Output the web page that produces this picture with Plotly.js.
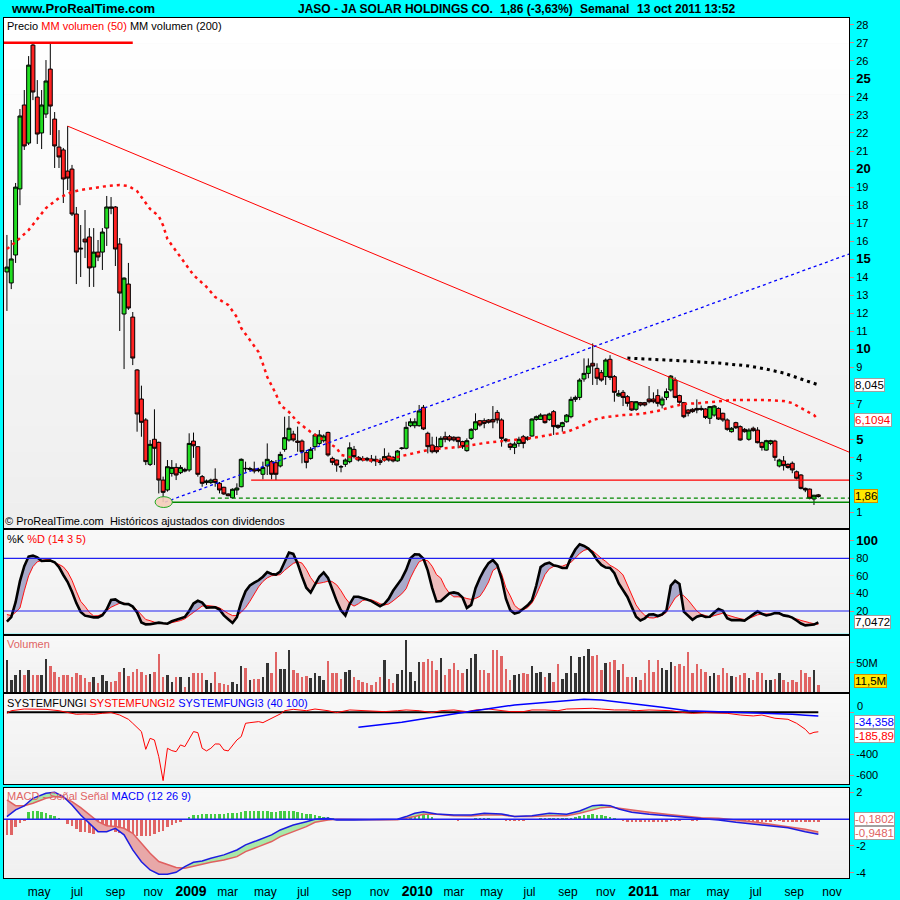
<!DOCTYPE html>
<html><head><meta charset="utf-8">
<script src="https://cdn.plot.ly/plotly-3.0.1.min.js"></script>
<style>html,body{margin:0;padding:0;background:#00FFFF;}#chart{width:900px;height:900px;}</style>
</head><body><div id="chart"></div>
<script>
// ---------------- DATA (weekly, first week = 2008-03-10) ----------------
const startWeek = '2008-03-10';
const openP = [14.30,13.69,15.24,18.90,23.55,21.44,26.87,23.99,22.00,23.05,
25.54,22.77,21.22,21.06,19.89,20.00,17.51,15.62,16.12,16.24,
14.57,15.40,15.40,16.73,17.90,17.90,15.85,11.97,13.63,11.80,
8.87,7.26,6.10,3.64,5.03,4.86,2.77,2.22,3.14,3.47,
3.18,3.36,3.33,4.93,4.62,2.96,2.63,2.63,2.81,2.59,
2.37,2.00,1.79,2.22,2.40,3.42,3.36,3.38,3.36,3.09,
3.55,3.79,3.73,3.55,4.47,4.99,5.32,4.93,4.93,4.29,
3.97,4.62,4.80,4.95,5.41,3.97,3.88,3.52,3.64,3.79,
4.47,4.03,3.97,3.97,3.94,3.92,3.84,3.88,4.10,4.03,
3.83,4.52,4.53,5.78,5.78,5.78,6.80,5.36,4.71,4.62,
4.62,5.17,5.17,5.14,5.14,4.90,4.40,5.08,5.58,6.06,
6.06,6.10,6.13,6.52,6.10,5.03,4.77,4.58,4.80,5.17,
5.14,5.21,6.13,6.13,6.37,6.13,6.56,5.80,5.73,6.00,
6.28,7.24,7.35,8.37,8.68,9.24,8.96,8.72,8.50,9.46,
8.50,7.43,7.63,7.39,7.11,6.69,7.06,7.06,7.26,7.26,
7.45,6.93,7.35,7.76,8.31,7.45,7.06,6.65,6.69,6.74,
6.74,6.71,6.19,6.37,6.74,6.47,6.10,5.45,5.95,5.73,
5.58,5.03,5.64,5.54,4.84,4.43,4.80,4.93,3.55,3.83,
3.64,3.70,3.23,3.05,2.31,2.27,1.72,1.95];
const highP = [16.35,16.07,19.23,23.33,24.38,26.26,26.98,24.93,24.38,26.04,
26.98,23.16,22.16,21.17,22.38,20.23,17.90,16.90,17.73,16.73,
16.73,16.07,16.73,18.51,18.45,17.95,16.18,14.00,14.80,12.08,
8.92,8.00,6.20,4.99,6.69,4.90,2.96,3.88,3.88,3.70,
3.60,3.45,5.36,5.40,4.62,3.05,2.80,2.85,3.42,2.66,
2.40,2.03,2.31,2.59,3.97,3.79,3.50,3.79,3.45,3.79,
4.80,3.88,3.88,4.34,6.28,6.32,5.50,5.73,5.02,4.43,
4.60,5.36,5.54,5.30,5.45,4.07,3.90,3.60,3.97,4.86,
4.66,4.10,4.10,4.05,4.16,4.12,3.97,4.53,4.29,4.10,
4.43,4.60,6.00,6.19,6.19,6.93,6.93,5.45,5.17,5.17,
5.20,5.45,5.27,5.20,5.17,4.95,5.08,5.64,6.47,6.10,
6.19,6.15,6.87,6.65,6.19,5.10,4.84,4.90,5.17,5.27,
5.20,6.19,6.35,6.47,6.40,6.50,6.65,5.85,6.00,6.43,
7.39,7.45,8.41,9.51,9.51,10.34,9.24,8.87,9.51,9.69,
8.59,7.76,7.76,7.48,7.15,7.15,7.10,7.10,7.98,7.63,
7.80,7.39,7.85,8.59,8.46,7.50,7.10,6.70,6.75,7.24,
6.90,6.75,6.87,6.93,6.80,6.50,6.19,5.70,6.00,5.80,
5.65,5.64,5.73,5.70,4.90,5.00,5.00,5.00,3.95,4.10,
3.70,3.80,3.30,3.10,2.35,2.30,1.95,2.00];
const lowP = [12.14,13.35,14.80,18.00,21.06,21.33,23.82,21.39,21.11,22.83,
21.89,20.06,20.06,18.12,18.84,17.40,13.63,14.02,15.07,13.47,
13.47,14.90,14.41,15.74,17.50,14.63,11.03,8.92,12.20,9.14,
5.45,5.17,3.60,3.55,3.60,2.03,1.55,2.13,2.96,2.77,
3.10,3.20,3.23,4.00,2.96,2.40,2.50,2.55,2.40,2.03,
1.95,1.88,1.75,1.94,2.37,3.23,3.25,3.14,3.20,2.81,
3.05,2.81,2.77,3.47,4.34,4.90,4.90,4.34,3.70,3.42,
3.90,4.40,4.70,4.85,4.07,3.60,3.23,3.20,3.50,3.70,
3.97,3.80,3.80,3.80,3.73,3.55,3.60,3.79,3.79,3.75,
3.79,4.45,4.47,5.70,5.64,5.73,5.54,4.25,4.25,4.25,
4.55,4.86,4.90,4.90,4.53,4.50,4.34,5.00,5.51,5.73,
5.64,5.90,5.64,5.91,4.62,4.85,4.43,4.21,4.62,4.53,
4.95,5.17,6.05,6.10,5.90,6.05,5.27,5.60,5.45,5.95,
6.19,7.10,7.20,8.22,8.41,8.04,8.04,8.22,8.04,8.31,
7.11,7.39,6.87,6.84,6.60,6.60,6.85,6.85,7.02,7.02,
6.84,6.74,7.20,7.67,7.30,7.00,6.20,6.30,6.50,6.47,
6.60,6.15,5.88,6.28,6.10,6.00,5.50,5.40,5.60,4.95,
5.40,4.95,5.45,4.80,4.40,4.40,4.70,3.83,3.47,3.30,
3.40,3.15,2.80,2.25,2.10,1.70,1.39,1.80];
const closeP = [14.57,15.02,19.00,22.94,21.28,25.76,24.27,21.94,23.55,24.88,
23.49,21.28,20.67,19.45,19.50,17.51,15.40,15.58,15.96,14.52,
15.40,15.13,16.51,17.90,17.84,15.57,13.13,13.96,12.30,9.53,
6.43,5.97,3.79,4.75,4.53,2.77,2.09,3.51,3.47,3.05,
3.47,3.27,4.80,4.67,3.09,2.59,2.72,2.77,2.64,2.22,
2.00,1.90,2.26,2.33,3.92,3.40,3.40,3.27,3.29,3.47,
3.92,3.09,3.09,4.19,5.12,5.64,4.99,4.86,4.34,3.75,
4.47,5.27,5.27,5.21,4.16,3.75,3.60,3.50,3.88,4.56,
4.07,3.88,3.88,3.88,3.83,3.83,3.75,4.07,3.88,3.83,
4.38,4.54,5.69,6.00,6.00,6.60,5.60,4.62,4.34,4.34,
5.08,5.03,4.99,4.99,4.90,4.62,4.95,5.58,6.00,5.82,
5.91,5.97,5.99,6.10,5.08,4.95,4.58,4.77,5.03,4.80,
5.03,6.15,6.28,6.37,5.95,6.43,5.73,5.69,5.95,6.37,
7.24,7.35,8.31,8.68,9.09,9.09,8.41,8.31,9.42,8.46,
7.63,7.57,7.35,7.02,6.65,7.11,6.93,6.93,7.11,7.11,
7.02,7.26,7.67,8.53,7.35,7.08,6.28,6.47,6.56,6.65,
6.69,6.24,6.84,6.87,6.15,6.10,5.58,5.64,5.67,4.99,
5.45,5.54,5.51,4.84,4.58,4.95,4.95,4.03,3.88,3.57,
3.47,3.33,2.87,2.31,2.22,1.76,1.93,1.86];

// moving averages (week number, price)
const ma50Week = [1,3,6,8,10,13,16,18,21,24,27,29,31,32,33,34,36,37,38,40,42,44,47,49,52,54,55,57,59,60,61,63,64,66,68,71,74,77,78,82,86,90,95,99,103,107,111,115,119,122,126,130,134,136,139,143,147,151,154,157,161,165,168,172,176,180,182,184,187,188];
const ma50Val = [15.57,15.96,16.62,17.23,17.84,18.40,18.73,18.84,18.95,19.06,19.12,19.06,18.78,18.45,18.12,17.79,17.40,16.87,16.12,15.46,14.80,14.13,13.47,12.91,12.47,11.80,11.19,10.53,9.86,9.20,8.48,7.54,6.93,6.54,5.99,5.43,4.99,4.55,4.16,3.94,3.83,3.99,4.27,4.49,4.55,4.66,4.82,4.93,5.04,5.10,5.27,5.43,5.82,6.10,6.26,6.37,6.43,6.60,6.82,6.98,7.04,7.15,7.20,7.20,7.20,7.15,7.04,6.76,6.37,6.1094];
const ma200Week = [144,149,157,165,172,176,180,184,188];
const ma200Val = [9.53,9.48,9.37,9.25,9.09,8.92,8.70,8.37,8.045];

// drawn trend lines (date, price)
const resistX = ['2008-06-16','2011-11-28 12:00']; const resistY = [22.38,4.32];
const supportX = ['2008-11-20','2011-11-28 12:00']; const supportY = [1.55,15.29];
const topLineX = ['2008-03-05','2008-09-29']; const topLineY = [27.0,27.0];
const redLevelX = ['2009-04-08','2011-11-28 12:00']; const redLevelY = [2.77,2.77];
const greenDashX = ['2009-02-02','2011-11-28 12:00']; const greenDashY = [1.77,1.77];
const greenLineX = ['2008-12-01','2011-11-28 12:00']; const greenLineY = [1.54,1.54];

// stochastic %K / %D (14 3 5), one value per week
const stochK = [8,13,30,54,71,82,83,81,77,77,
77.5,75.5,70,61,53,42,29,19,14.7,13.8,
12.8,12.8,15.2,22,32.5,33.2,30,28,27.8,25,
18.3,7,4.8,5,5.8,6.8,6,5.5,8.3,9.8,
11.5,13.2,20,28.5,31.6,29.6,23.8,24.4,24.2,21.6,
15,10.7,6.4,13,30,42.5,49,52.2,55,59,
64.3,62.2,61.5,65,76,86.5,85,74,59.4,46.5,
41,49.3,59,64,57.7,44.5,31.3,20.6,15,28,
36.3,36.3,34.3,33.1,31.3,28.8,25.5,28.2,34,43,
49.5,56.8,66.8,80,84.5,84.3,79.5,66,46.3,31,
31.4,36.3,40.2,41.2,40,35.5,23.5,27,46,57.6,
67,74.5,78,72.5,57,34,21,17,18.5,22.5,
26.5,32,49,70,73.5,75,72,71,69,69,
81,90,96,94,91,86,78,72.5,69.4,69,
63,51.3,43,36,24.7,13.5,9.3,11.7,16,16.3,
14.3,16.2,21,48.8,54.5,50.7,19.3,14.3,10,13.5,
15,13.2,13.5,18.3,22.3,20.3,11.8,9.6,10,9.6,
9,12.3,15.6,19.6,16.8,15,16,17.7,17.4,15,
14.2,12.5,9.2,5.8,3.7,3.8,4.6,7.0472];
const stochD = [16,14.8,18.5,23.4,43,60,70.5,76,77.6,78.4,
78.2,75,73,70.3,64.4,55,42.5,31,25.3,18.5,
14.4,14.7,16.6,20.6,24.3,26.6,28.9,29,27.7,25.8,
21,15.3,10.3,9,7.3,6.5,5.6,5.6,6.6,7.8,
9.1,11.1,14.3,18.4,22,25.6,26.4,25.9,25.2,23.6,
20.3,17.2,14.8,14.8,18.6,23.8,31,39.4,47.5,53.6,
57.7,60.1,60.8,61.4,66.3,70,74.2,76.2,74.5,67.5,
58,51.5,51.6,52.6,53.9,53.2,49.8,43,34.8,28.6,
25.6,28.2,32,33,32.7,30.8,28.3,26.8,28,31.5,
35,39.5,45.3,57.6,67.5,76,78.2,77.2,71,61.4,
57.4,47,40,36.1,36.2,35.7,34.2,33.2,34.3,36.7,
44,53,66,69.5,62.5,46.5,37.3,26.4,22.2,21.5,
23.8,29,38.3,50,61.4,68,70.7,71,71,73,
75.5,80.3,85.5,89,90.5,88.5,84,80,76.5,72,
69.4,66,61,50,38,27,20,15.2,12.3,12,
13.3,15,18.5,26.2,34.8,38.8,37.4,32.4,26.4,20,
16.3,14.5,13.2,14.7,16.4,17.5,15.5,13.6,12.5,11.3,
10.3,11.5,13.5,15.6,16.6,16.6,16.6,17.6,16.8,15.6,
13.8,12.6,11,9.3,7.6,6.7,5.5,4.8];

// volume (millions of shares), one value per week
const volumeM = [55,20,29,37,29,37,29,29,29,57,
45,35,25,29,29,25,33,29,24,17,
25,16,29,19,17,19,35,41,27,34,
39,35,29,31,35,66,26,29,17,25,
25,9,25,33,32,33,21,15,34,16,
13,12,17,13,45,41,20,22,22,26,
50,33,69,39,39,73,38,32,26,27,
24,33,27,21,53,32,32,22,35,37,
26,20,17,15,12,17,26,55,23,15,
31,38,90,35,19,52,52,57,54,38,
59,29,39,50,38,32,39,58,66,38,
38,33,73,73,62,39,21,29,31,32,
31,44,32,35,26,33,17,48,23,33,
62,32,61,62,74,62,64,38,50,52,
55,38,48,26,26,26,21,32,55,35,
55,42,38,52,45,48,45,70,32,49,
39,35,27,33,29,41,32,27,26,29,
32,24,21,35,33,20,21,23,32,20,
17,20,17,37,33,26,37,11.5];

// SYSTEMFUNGI (40 100)
const sf1Week = [1,188]; const sf1Val = [0,0];
const sf2Week = [1,2,5,7,10,13,15,17,19,21,23,25,27,29,30,32,33,34,35,36,37,38,39,40,41,42,44,45,46,47,48,49,50,51,52,54,55,56,57,58,59,60,62,63,64,65,67,70,72,75,77,80,83,85,88,91,93,96,99,101,104,107,109,112,114,117,120,122,125,128,130,133,136,138,141,144,146,149,152,154,157,159,162,165,167,170,173,175,178,181,183,185,186,187,188];
const sf2Val = [-10,15,31,31,28,15,-3,-19,-16,-19,-10,-3,-26,-67,-105,-184,-353,-248,-264,-423,-651,-343,-365,-375,-311,-327,-184,-194,-343,-368,-343,-302,-302,-359,-368,-264,-232,-105,-99,-96,-89,-99,-57,-42,-16,15,28,15,31,15,-3,22,15,6,6,15,22,15,-3,15,22,6,22,31,22,6,6,22,22,15,31,38,38,31,22,22,15,22,15,15,-3,-10,-3,-10,-10,-26,-35,-26,-57,-67,-105,-162,-207,-191,-185.89];
const sf3Week = [82,92,105,118,132,134,138,145,152,158,165,171,178,182,185,188];
const sf3Val = [-143,-96,-10,70,117,123,117,85,47,15,6,0,-10,-20,-28,-34.358];

// MACD (12 26 9)
const macdWeek = [1,3,5,7,10,12,14,16,18,20,22,24,26,28,30,32,34,36,38,40,42,44,46,48,51,54,56,59,62,64,67,70,72,75,77,81,87,91,93,95,97,100,104,108,111,115,118,122,126,130,133,136,138,140,142,145,149,153,157,161,165,169,173,177,181,185,188];
const macdVal = [0.2,0.7,1.0,1.57,1.95,2.02,1.7,1.07,0.32,-0.3,-0.93,-0.93,-0.68,-1.17,-2.3,-3.18,-3.8,-4.12,-4.12,-3.97,-3.55,-3.22,-3.12,-2.92,-2.67,-2.3,-1.92,-1.55,-1.17,-0.8,-0.43,-0.18,0,0.07,-0.05,-0.05,-0.05,0,0.2,0.45,0.57,0.4,0.32,0.32,0.45,0.4,0.2,0.27,0.45,0.37,0.62,1.02,1.07,1.02,0.77,0.52,0.37,0.27,0.15,0.02,-0.05,-0.23,-0.35,-0.48,-0.63,-0.93,-1.128];
const signalVal = [1.45,1.02,1.02,1.2,1.57,1.7,1.62,1.32,0.87,0.37,-0.18,-0.48,-0.55,-0.68,-1.05,-1.8,-2.55,-3.17,-3.42,-3.62,-3.67,-3.5,-3.37,-3.22,-3.05,-2.8,-2.42,-2.05,-1.67,-1.3,-0.93,-0.55,-0.23,-0.05,0,-0.03,-0.03,-0.03,0.07,0.2,0.37,0.37,0.27,0.25,0.32,0.32,0.2,0.2,0.27,0.27,0.45,0.7,0.87,0.92,0.82,0.7,0.52,0.37,0.25,0.12,0.07,-0.05,-0.18,-0.38,-0.55,-0.75,-0.9481];
const histVal = [-1.2,-1.2,-0.6,-0.25,-0.1,0.58,0.65,0.65,0.58,0.48,
0.33,0.23,0.1,-0.05,-0.35,-0.48,-0.73,-0.93,-0.98,-1.03,
-1.1,-0.98,-0.85,-0.73,-0.8,-0.93,-1.03,-1.1,-1.18,-1.23,
-1.28,-1.23,-1.28,-1.23,-1.1,-0.98,-0.85,-0.6,-0.43,-0.28,
-0.18,-0.08,0.15,0.3,0.33,0.38,0.4,0.4,0.42,0.42,
0.42,0.45,0.45,0.5,0.55,0.6,0.62,0.62,0.62,0.62,
0.6,0.58,0.55,0.6,0.62,0.65,0.6,0.55,0.48,0.43,
0.4,0.35,0.28,0.2,0.15,0.08,0.05,0,-0.05,0.05,
0,0.02,-0.02,0.02,-0.02,0.02,0,-0.02,0.02,0,
0.05,0.12,0.2,0.3,0.38,0.45,0.4,0.3,0.15,0.05,
0,-0.05,-0.05,-0.05,-0.1,-0.08,0,0.05,0.08,0.1,
0.1,0.08,0.05,0.02,-0.05,-0.1,-0.12,-0.12,-0.1,-0.1,
-0.08,0,0.05,0.1,0.12,0.1,0.1,0.1,0.12,0.1,
0.12,0.18,0.22,0.3,0.35,0.38,0.35,0.3,0.25,0.15,
0.08,0,-0.15,-0.2,-0.22,-0.22,-0.2,-0.2,-0.2,-0.2,
-0.18,-0.18,-0.18,-0.15,-0.12,-0.1,-0.08,-0.08,-0.1,-0.1,
-0.08,-0.05,-0.05,-0.05,-0.05,-0.08,-0.1,-0.12,-0.15,-0.15,
-0.12,-0.12,-0.15,-0.18,-0.2,-0.18,-0.18,-0.15,-0.15,-0.18,
-0.2,-0.2,-0.18,-0.2,-0.22,-0.2,-0.2,-0.1802];

const monthTicks = ['2008-05-01','2008-07-01','2008-09-01','2008-11-01','2009-01-01','2009-03-01','2009-05-01','2009-07-01','2009-09-01','2009-11-01','2010-01-01','2010-03-01','2010-05-01','2010-07-01','2010-09-01','2010-11-01','2011-01-01','2011-03-01','2011-05-01','2011-07-01','2011-09-01','2011-11-01'];
const monthLabels = ['may','jul','sep','nov','2009','mar','may','jul','sep','nov','2010','mar','may','jul','sep','nov','2011','mar','may','jul','sep','nov'];
const priceTicks = [1,3,4,5,7,9,10,11,12,13,14,15,16,17,18,19,20,21,22,23,24,25,26,27,28];

// ---------------- helpers ----------------
const DAY = 86400000;
const T0 = Date.parse(startWeek + 'T00:00:00Z');
function wk(k){ return new Date(T0 + (k-1)*7*DAY).toISOString().slice(0,10); }
const dates = closeP.map((_,i)=>wk(i+1));
const W=900,H=900,ML=4,MR=51,MT=18,MB=22,PW=W-ML-MR,PH=H-MT-MB;
function py(px){ return (H-MB-px)/PH; }
function pxX(px){ return (px-ML)/PW; }
const FONT = 'Liberation Sans, Arial, sans-serif';
const XR = ['2008-03-05 07:00','2011-11-28 12:00'];

const traces = [];
traces.push({type:'candlestick', x:dates, open:openP, high:highP, low:lowP, close:closeP, xaxis:'x', yaxis:'y',
  increasing:{fillcolor:'#22DD22', line:{color:'#000', width:1}},
  decreasing:{fillcolor:'#FF2222', line:{color:'#000', width:1}},
  whiskerwidth:0, hoverinfo:'skip', showlegend:false});
function line(x,y,ax,color,width,dash,extra){ return Object.assign({type:'scatter',mode:'lines',x:x,y:y,xaxis:'x'+(ax===1?'':ax),yaxis:'y'+(ax===1?'':ax),line:{color:color,width:width,dash:dash||'solid'},hoverinfo:'skip',showlegend:false},extra||{}); }
traces.push(line(ma50Week.map(wk), ma50Val, 1, '#FF1010', 2.5, '3px,4px'));
traces.push(line(ma200Week.map(wk), ma200Val, 1, '#000000', 3, '3px,4px'));
traces.push(line(resistX, resistY, 1, '#FF0000', 1));
traces.push(line(supportX, supportY, 1, '#0000FF', 1.3, '3px,3px'));
traces.push(line(topLineX, topLineY, 1, '#FF0000', 2.5));
traces.push(line(redLevelX, redLevelY, 1, '#FF0000', 1.3));
traces.push(line(greenDashX, greenDashY, 1, '#008800', 1.3, '4px,3px'));
traces.push(line(greenLineX, greenLineY, 1, '#008800', 1.6));

const kMax = stochK.map((v,i)=>Math.max(v,stochD[i]));
const kMin = stochK.map((v,i)=>Math.min(v,stochD[i]));
traces.push(line(dates, stochD, 2, 'rgba(0,0,0,0)', 0));
traces.push(line(dates, kMax, 2, 'rgba(0,0,0,0)', 0, null, {fill:'tonexty', fillcolor:'#A9AACB'}));
traces.push(line(dates, stochD, 2, 'rgba(0,0,0,0)', 0));
traces.push(line(dates, kMin, 2, 'rgba(0,0,0,0)', 0, null, {fill:'tonexty', fillcolor:'#EDBDBD'}));
traces.push(line(dates, stochD, 2, '#FF1010', 1));
traces.push(line(dates, stochK, 2, '#000000', 2.6));

traces.push({type:'bar', x:dates, y:volumeM, xaxis:'x3', yaxis:'y3', width:4*DAY,
  marker:{color:closeP.map((c,i)=>c>=openP[i]?'#333333':'#E06464'), line:{width:0}}, hoverinfo:'skip', showlegend:false});

traces.push(line(sf1Week.map(wk), sf1Val, 4, '#000000', 2));
traces.push(line(sf2Week.map(wk), sf2Val, 4, '#FF0000', 1));
traces.push(line(sf3Week.map(wk), sf3Val, 4, '#0000FF', 1.5));

traces.push({type:'bar', x:dates, y:histVal, xaxis:'x5', yaxis:'y5', width:4*DAY,
  marker:{color:histVal.map(v=>v>=0?'#44CC44':'#E06464'), line:{width:0}}, hoverinfo:'skip', showlegend:false});
const mX = macdWeek.map(wk);
const mMax = macdVal.map((v,i)=>Math.max(v,signalVal[i]));
const mMin = macdVal.map((v,i)=>Math.min(v,signalVal[i]));
traces.push(line(mX, signalVal, 5, 'rgba(0,0,0,0)', 0));
traces.push(line(mX, mMax, 5, 'rgba(0,0,0,0)', 0, null, {fill:'tonexty', fillcolor:'#A8E8A8'}));
traces.push(line(mX, signalVal, 5, 'rgba(0,0,0,0)', 0));
traces.push(line(mX, mMin, 5, 'rgba(0,0,0,0)', 0, null, {fill:'tonexty', fillcolor:'#E8A8A8'}));
traces.push(line(mX, signalVal, 5, '#E06060', 1.5));
traces.push(line(mX, macdVal, 5, '#1C1CE0', 1.5));

// ---------------- layout ----------------
const panels = [[18,528],[530,633.5],[636,692],[694,784],[788,878]];
const ranges = [[0.114,28.37],[-5.6,112.2],[-0.5,97],[-683,174],[-4.40,2.34]];
const layout = {width:W, height:H, margin:{l:ML,r:MR,t:MT,b:MB,pad:0}, paper_bgcolor:'#00FFFF', plot_bgcolor:'#F4F4F4',
  showlegend:false, hovermode:false, boxgap:0.1, boxgroupgap:0, bargap:0, font:{family:FONT, size:11, color:'#000'}, shapes:[], annotations:[]};
function bold(t,s){ return '<span style="font-size:'+s+'px"><b>'+t+'</b></span>'; }
panels.forEach((p,i)=>{
  const n = i+1, sfx = n===1?'':n;
  layout['xaxis'+sfx] = {domain:[0,1], anchor:'y'+sfx, type:'date', range:XR, showgrid:false, zeroline:false,
    showline:true, mirror:true, linecolor:'#000', linewidth:1, showticklabels:false, ticks:'', rangeslider:{visible:false}, fixedrange:true};
  layout['yaxis'+sfx] = {domain:[py(p[1]),py(p[0])], anchor:'x'+sfx, side:'right', range:ranges[i], showgrid:false, zeroline:false,
    showline:true, mirror:true, linecolor:'#000', linewidth:1, ticks:'outside', ticklen:4, tickcolor:'#E08080',
    tickfont:{family:FONT,size:11,color:'#000'}, fixedrange:true};
  const N=20, c0 = i===0?255:248, c1 = i===0?238:240;
  for(let j=0;j<N;j++){
    const t0 = p[0]+(p[1]-p[0])*j/N, t1 = p[0]+(p[1]-p[0])*(j+1)/N;
    const c = Math.round(c0+(c1-c0)*j/(N-1));
    layout.shapes.push({type:'rect', xref:'paper', yref:'paper', x0:0, x1:1, y0:py(t1), y1:py(t0), fillcolor:'rgb('+c+','+c+','+c+')', line:{width:0}, layer:'below'});
  }
});
layout.yaxis.tickvals = priceTicks; layout.yaxis.ticktext = priceTicks.map(v=>v%5===0 ? bold(v,13) : String(v));
layout.yaxis2.tickvals = [100,80,60,40,20]; layout.yaxis2.ticktext = [bold('100',13),'80','60','40','20'];
layout.yaxis3.tickvals = [50]; layout.yaxis3.ticktext = ['50M'];
layout.yaxis4.tickvals = [0,-400,-600]; layout.yaxis4.ticktext = ['','-400','-600'];
layout.yaxis5.tickvals = [2,-2,-4]; layout.yaxis5.ticktext = ['2','-2','-4'];
layout.xaxis5.showticklabels = true;
layout.xaxis5.ticks = 'outside'; layout.xaxis5.ticklen = 3; layout.xaxis5.tickcolor = 'rgba(0,0,0,0)';
layout.xaxis5.tickvals = monthTicks;
layout.xaxis5.ticktext = monthLabels.map(t=>/^\d{4}$/.test(t) ? bold(t,14) : t);
layout.xaxis5.tickfont = {family:FONT, size:12, color:'#000'};

layout.shapes.push({type:'line', xref:'paper', yref:'y2', x0:0, x1:1, y0:80, y1:80, line:{color:'#2020F0', width:1.2}});
layout.shapes.push({type:'line', xref:'paper', yref:'y2', x0:0, x1:1, y0:20, y1:20, line:{color:'#2020F0', width:1.2}});
layout.shapes.push({type:'line', xref:'paper', yref:'y5', x0:0, x1:1, y0:0, y1:0, line:{color:'#2020F0', width:1.5}});
layout.shapes.push({type:'circle', xref:'x', yref:'y', x0:'2008-11-04', x1:'2008-12-02', y0:1.25, y1:1.85, fillcolor:'rgba(245,205,185,0.9)', line:{color:'#22AA22', width:1}, layer:'above'});

function ann(text, xpx, ypx, size, extra){ layout.annotations.push(Object.assign({text:text, xref:'paper', yref:'paper', x:pxX(xpx), y:py(ypx), xanchor:'left', yanchor:'middle', showarrow:false, font:{family:FONT,size:size,color:'#000'}}, extra||{})); }
ann('<b>www.ProRealTime.com</b>', 9, 9, 13);
ann('<b>JASO - JA SOLAR HOLDINGS CO.</b>', 296, 9, 12);
ann('<b>1,86 (-3,63%)</b>', 498, 9, 12);
ann('<b>Semanal</b>', 578, 9, 12);
ann('<b>13 oct 2011 13:52</b>', 635, 9, 12);
ann('Precio <span style="color:#FF0000">MM volumen (50)</span> MM volumen (200)', 5, 26, 11);
ann('© ProRealTime.com  Históricos ajustados con dividendos', 3, 521, 11);
ann('%K <span style="color:#FF0000">%D (14 3 5)</span>', 5, 539, 11);
ann('<span style="color:#E06464">Volumen</span>', 5, 644, 11);
ann('SYSTEMFUNGI <span style="color:#FF0000">SYSTEMFUNGI2</span> <span style="color:#0000FF">SYSTEMFUNGI3 (40 100)</span>', 5, 703, 11);
ann('<span style="color:#E06464">MACD - Señal Señal</span> <span style="color:#0000FF">MACD (12 26 9)</span>', 5, 796, 11);
ann('0', 855, 706, 11);

function box(text, yref, yv, color, bg, border){ layout.annotations.push({text:text, xref:'paper', yref:yref, x:pxX(854), y:yv, xanchor:'left', yanchor:'middle', showarrow:false,
  font:{family:FONT,size:11.5,color:color}, bgcolor:bg, bordercolor:border, borderwidth:1, borderpad:0}); }
box('8,045','y',8.045,'#000','#FFFFFF','#A0A0A0');
box('6,1094','y',6.1094,'#FF0000','#FFFFFF','#A0A0A0');
box('1,86','y',1.89,'#000','#FFE800','#D09000');
box('7,0472','y2',7.2,'#000','#FFFFFF','#A0A0A0');
box('11,5M','y3',19,'#000','#FFE800','#D09000');
box('-34,358','y4',-88,'#0000FF','#FFFFFF','#A0A0A0');
box('-185,89','y4',-222,'#FF0000','#FFFFFF','#A0A0A0');
box('-0,1802','y5',0.05,'#E06464','#FFFFFF','#A0A0A0');
box('-0,9481','y5',-1.0,'#E06464','#FFFFFF','#A0A0A0');

Plotly.newPlot('chart', traces, layout, {staticPlot:true, displayModeBar:false});
</script></body></html>
